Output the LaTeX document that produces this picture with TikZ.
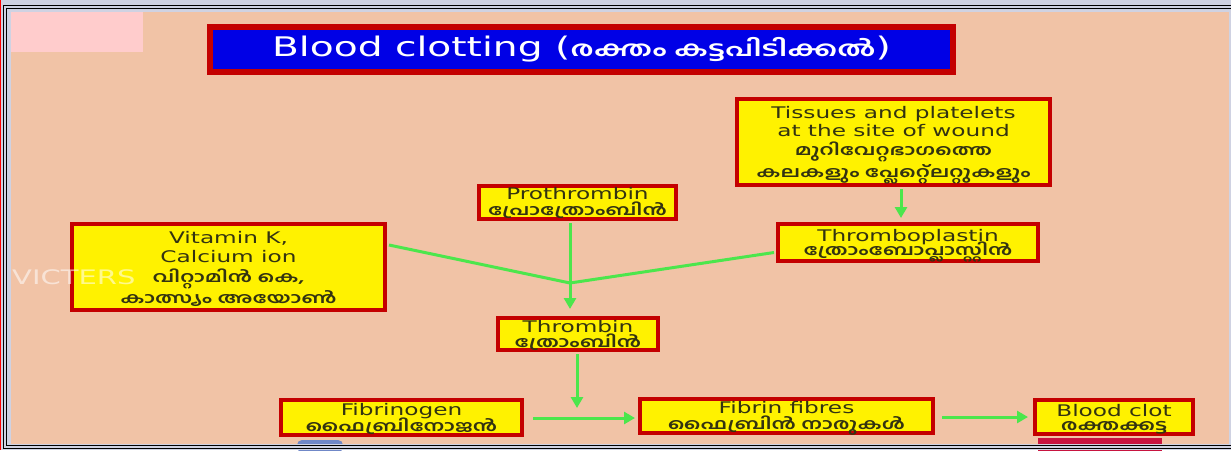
\documentclass[tikz,border=0pt]{standalone}
\usepackage{fontspec}
\setmainfont{DejaVu Sans}[FakeStretch=1.45]
\newfontfamily\mal{Hind Kochi}[Script=Malayalam,FakeStretch=1.45]
\usetikzlibrary{arrows.meta,calc}
\definecolor{bggray}{HTML}{CFD2E2}
\definecolor{peach}{HTML}{F1C3A6}
\definecolor{pinkrect}{HTML}{FFCCCC}
\definecolor{boxyellow}{HTML}{FFF200}
\definecolor{boxred}{HTML}{C40000}
\definecolor{titleblue}{HTML}{0000E6}
\definecolor{txt}{HTML}{333311}
\definecolor{arrgreen}{HTML}{4CE64C}
\definecolor{blobblue}{HTML}{7088C8}
\definecolor{crimson}{HTML}{C81440}
\tikzset{
  ybox/.style={draw=boxred, line width=4pt, fill=boxyellow, inner sep=0pt},
  lbl/.style={inner sep=0pt, align=center, text=txt, font=\fontsize{16}{19}\selectfont},
  titlebox/.style={draw=boxred, line width=6pt, fill=titleblue, inner sep=0pt,
    text=white, font=\fontsize{27}{30}\selectfont},
  gline/.style={draw=arrgreen, line width=3pt},
  arr/.style={gline, -{Triangle[length=11pt,width=12pt]}},
}
\newcommand{\ml}[1]{{\mal\bfseries\fontsize{15}{19}\selectfont #1}}
\begin{document}
\begin{tikzpicture}[x=1pt,y=-1pt]
\useasboundingbox (0,0) rectangle (1231,450);
\fill[bggray] (0,0) rectangle (1231,450);
\fill[peach] (11,12) rectangle (1229,444);
\fill[pinkrect] (11,12) rectangle (143,52);

% title
\node[titlebox, minimum width=743pt, minimum height=45pt] (title) at (581.5,49.5)
  {Blood clotting ({\mal\bfseries\fontsize{21}{24}\selectfont രക്തം കട്ടപിടിക്കൽ})};

% boxes
\node[ybox, minimum width=313pt, minimum height=86pt] (tis) at (893.5,142) {};
\node[lbl] (tis-t) at ($(tis)+(0,3)$)
  {Tissues and platelets\\[-1pt] at the site of wound\\[0pt] \ml{മുറിവേറ്റഭാഗത്തെ}\\[1pt] \ml{കലകളും പ്ലേറ്റ്ലെറ്റുകളും}};
\node[ybox, minimum width=197pt, minimum height=33pt] (pro) at (577.5,202.5) {};
\node[lbl] (pro-t) at ($(pro)+(0,0)$) {Prothrombin\\[-3pt] \ml{പ്രോത്രോംബിൻ}};
\node[ybox, minimum width=313pt, minimum height=86pt] (vit) at (228.5,267) {};
\node[lbl] (vit-t) at ($(vit)+(0,2)$)
  {Vitamin K,\\ Calcium ion\\[1pt] \ml{വിറ്റാമിൻ കെ,}\\[1pt] \ml{കാത്സ്യം അയോൺ}};
\node[ybox, minimum width=260pt, minimum height=37pt] (tpl) at (908,242.5) {};
\node[lbl] (tpl-t) at ($(tpl)+(0,3)$) {Thromboplastin\\[-5pt] \ml{ത്രോംബോപ്ലാസ്റ്റിൻ}};
\node[ybox, minimum width=160pt, minimum height=32pt] (thr) at (578,334) {};
\node[lbl] (thr-t) at ($(thr)+(0,1.5)$) {Thrombin\\[-4pt] \ml{ത്രോംബിൻ}};
\node[ybox, minimum width=241pt, minimum height=35pt] (fbg) at (401.5,417.5) {};
\node[lbl] (fbg-t) at ($(fbg)+(0,1.5)$) {Fibrinogen\\[-3pt] \ml{ഫൈബ്രിനോജൻ}};
\node[ybox, minimum width=293pt, minimum height=34pt] (fbf) at (786.5,416) {};
\node[lbl] (fbf-t) at ($(fbf)+(0,2)$) {Fibrin fibres\\[-3pt] \ml{ഫൈബ്രിൻ നാരുകൾ}};
\node[ybox, minimum width=158pt, minimum height=34pt] (clot) at (1114,417) {};
\node[lbl] (clot-t) at ($(clot)+(0,2)$) {Blood clot\\[-5pt] \ml{രക്തക്കട്ട}};

% connectors
\coordinate (j) at (570,283);
\coordinate (mid) at (577,408);
\draw[arr] ($(tis.south)+(7.5,2)$) -- ($(tpl.north)+(-7,-4)$);
\draw[gline] ($(vit.east)+(2,-22)$) -- (j);
\draw[gline] ($(tpl.west)+(-2,10)$) -- (j);
\draw[arr] ($(pro.south)+(-7.5,2)$) -- ($(thr.north)+(-8,-7)$);
\draw[arr] ($(thr.south)+(-1,2)$) -- (mid);
\draw[arr] ($(fbg.east)+(9,0.5)$) -- ($(fbf.west)+(-3,2)$);
\draw[arr] ($(fbf.east)+(7,1)$) -- ($(clot.west)+(-5,0)$);

% watermark
\node[anchor=west, text=white, opacity=0.55, inner sep=0pt,
  font=\fontsize{20}{20}\selectfont] (wm) at (12,277) {VICTERS};

% partial shapes at bottom edge
\fill[blobblue, rounded corners=5pt] (297,440) rectangle (343,452);
\fill[crimson] (1038,438) rectangle (1162,452);

% frame
\fill[bggray] (0,444) rectangle (1231,450);
\fill[bggray] (0,0) rectangle (11,450);
\fill[bggray] (1229,0) rectangle (1231,450);
\fill[bggray] (0,0) rectangle (1231,12);
\draw[black, line width=1pt] (3,5.5) -- (1231,5.5);
\draw[black, line width=1pt] (6,8.5) -- (1231,8.5);
\draw[black, line width=1pt] (3,448.5) -- (1231,448.5);
\draw[black, line width=1pt] (6,445.5) -- (1231,445.5);
\draw[black, line width=1pt] (3.5,5) -- (3.5,449);
\draw[black, line width=1pt] (6.5,8) -- (6.5,446);
\draw[red, line width=1.2pt] (0.6,0) -- (0.6,450);
\end{tikzpicture}
\end{document}
